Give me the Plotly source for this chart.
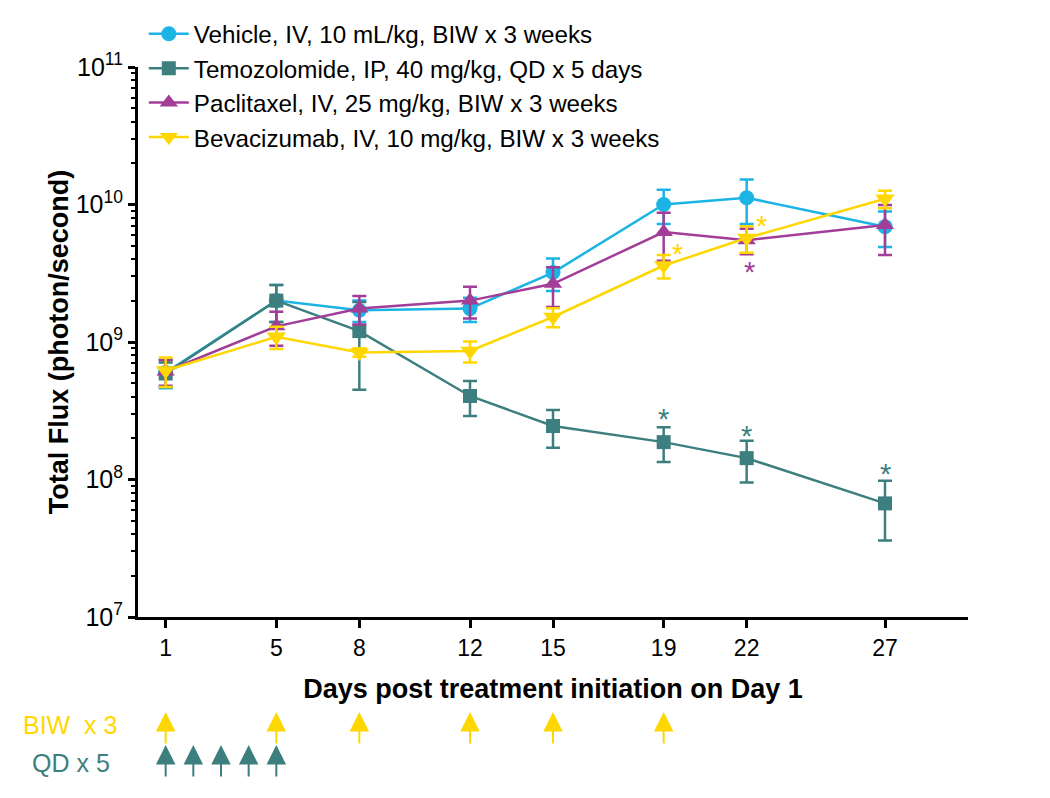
import math
import plotly.graph_objects as go

# ---------------- data ----------------
days = [1, 5, 8, 12, 15, 19, 22, 27]
tick_labels = ["1", "5", "8", "12", "15", "19", "22", "27"]

series_names = [
    "Vehicle, IV, 10 mL/kg, BIW x 3 weeks",
    "Temozolomide, IP, 40 mg/kg, QD x 5 days",
    "Paclitaxel, IV, 25 mg/kg, BIW x 3 weeks",
    "Bevacizumab, IV, 10 mg/kg, BIW x 3 weeks",
]
vehicle_mean = [6.0e8, 2.0e9, 1.7e9, 1.75e9, 3.2e9, 1.0e10, 1.12e10, 6.9e9]
vehicle_sem = [1.4e8, 0.6e9, 0.3e9, 0.35e9, 0.85e9, 2.8e9, 4.0e9, 2.0e9]
tmz_mean = [5.9e8, 2.0e9, 1.2e9, 4.05e8, 2.45e8, 1.87e8, 1.43e8, 6.7e7]
tmz_sem = [1.2e8, 0.6e9, 0.75e9, 1.15e8, 0.75e8, 0.53e8, 0.48e8, 3.1e7]
ptx_mean = [6.1e8, 1.3e9, 1.75e9, 2.0e9, 2.65e9, 6.3e9, 5.5e9, 7.1e9]
ptx_sem = [1.3e8, 0.36e9, 0.41e9, 0.52e9, 0.85e9, 2.4e9, 1.15e9, 2.8e9]
bev_mean = [6.2e8, 1.09e9, 8.4e8, 8.6e8, 1.52e9, 3.6e9, 5.7e9, 1.1e10]
bev_sem = [1.5e8, 0.2e9, 0.06e9, 0.15e9, 0.24e9, 0.7e9, 1.25e9, 1.6e9]

# significance asterisks: (day position, flux position, series index)
sig_days = [19, 22, 27, 19.5, 22.55, 22.1]
sig_vals = [2.95e8, 2.2e8, 1.17e8, 4.67e9, 7.46e9, 3.45e9]
sig_series = [1, 1, 1, 3, 3, 2]

# dosing schedules
biw_days = [1, 5, 8, 12, 15, 19]
qd_days = [1, 2, 3, 4, 5]

y_tick_vals = [1e7, 1e8, 1e9, 1e10, 1e11]
y_tick_text = ["10<sup>7</sup>", "10<sup>8</sup>", "10<sup>9</sup>", "10<sup>10</sup>", "10<sup>11</sup>"]

# ---------------- style ----------------
colors = ["#1BB4E5", "#3D7F7E", "#A23D98", "#FFD700"]
symbols = ["circle", "square", "triangle-up", "triangle-down"]
msizes = [15, 14, 16, 17]
FONT = "Liberation Sans, Arial, sans-serif"

means = [vehicle_mean, tmz_mean, ptx_mean, bev_mean]
sems = [vehicle_sem, tmz_sem, ptx_sem, bev_sem]

fig = go.Figure()
for i in range(4):
    fig.add_trace(go.Scatter(
        x=days, y=means[i], name=series_names[i], mode="lines+markers",
        line=dict(color=colors[i], width=2.5),
        marker=dict(symbol=symbols[i], size=msizes[i], color=colors[i]),
        error_y=dict(type="data", array=sems[i], symmetric=True,
                     color=colors[i], thickness=2.5, width=7),
        legendgroup=f"g{i}",
    ))

annotations = []
for d, v, s in zip(sig_days, sig_vals, sig_series):
    annotations.append(dict(x=d, y=math.log10(v), xref="x", yref="y", text="*",
                            showarrow=False, xanchor="center", yanchor="middle",
                            font=dict(size=29, color=colors[s], family=FONT), yshift=-4))

# dosing arrows below the axis
biw_tip, qd_tip, arrow_len = -0.1727, -0.2327, 33
for d in biw_days:
    annotations.append(dict(x=d, y=biw_tip, xref="x", yref="paper", text="", showarrow=True,
                            ax=0, ay=arrow_len, arrowhead=2, arrowsize=1.95, arrowwidth=2,
                            arrowcolor=colors[3]))
for d in qd_days:
    annotations.append(dict(x=d, y=qd_tip, xref="x", yref="paper", text="", showarrow=True,
                            ax=0, ay=arrow_len, arrowhead=2, arrowsize=1.95, arrowwidth=2,
                            arrowcolor=colors[1]))
annotations.append(dict(x=-0.082, y=-0.196, xref="paper", yref="paper", text="BIW\u00a0 x 3",
                        showarrow=False, xanchor="center", yanchor="middle",
                        font=dict(size=25, color=colors[3], family=FONT)))
annotations.append(dict(x=-0.081, y=-0.265, xref="paper", yref="paper", text="QD x 5",
                        showarrow=False, xanchor="center", yanchor="middle",
                        font=dict(size=25, color=colors[1], family=FONT)))

minor_vals = [m * 10 ** k for k in range(7, 11) for m in range(2, 10)]

fig.update_layout(
    width=1034, height=782,
    margin=dict(l=130, r=74, t=59, b=173, autoexpand=False),
    paper_bgcolor="white", plot_bgcolor="white",
    font=dict(family=FONT, color="black"),
    showlegend=True,
    legend=dict(x=0.007, y=1.101, xanchor="left", yanchor="top",
                font=dict(size=24.2, family=FONT, color="black"),
                bgcolor="rgba(0,0,0,0)", tracegroupgap=0, itemwidth=40),
    annotations=annotations,
    xaxis=dict(range=[0, 30], tickmode="array", tickvals=days, ticktext=tick_labels,
               showline=True, linecolor="black", linewidth=3,
               ticks="outside", ticklen=8, tickwidth=2.5, tickcolor="black",
               showgrid=False, zeroline=False,
               tickfont=dict(size=23, family=FONT),
               title=dict(text="<b>Days post treatment initiation on Day 1</b>",
                          font=dict(size=27, family=FONT), standoff=20)),
    yaxis=dict(type="log", range=[7, 11], tickmode="array", tickvals=y_tick_vals,
               ticktext=y_tick_text,
               showline=True, linecolor="black", linewidth=3,
               ticks="outside", ticklen=7, tickwidth=2.5, tickcolor="black",
               showgrid=False, zeroline=False,
               minor=dict(tickmode="array", tickvals=minor_vals, ticks="outside",
                          ticklen=4, tickwidth=2, tickcolor="black", showgrid=False),
               tickfont=dict(size=25, family=FONT),
               title=dict(text="<b>Total Flux (photon/second)</b>",
                          font=dict(size=27, family=FONT), standoff=0)),
)

fig.write_html("out.html")
